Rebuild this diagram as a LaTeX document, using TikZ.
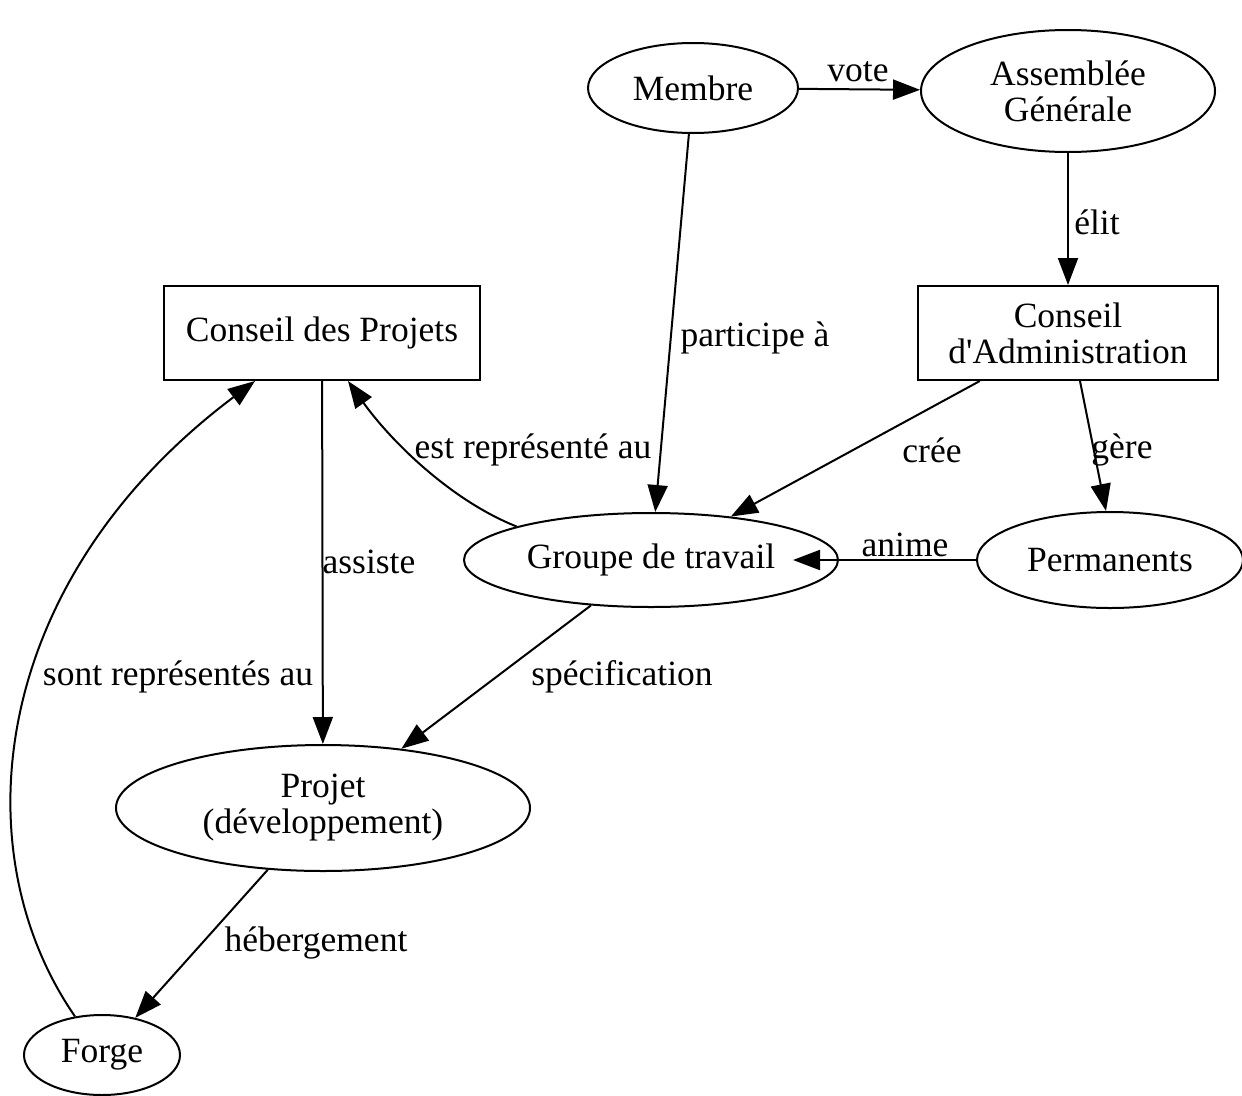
\documentclass[tikz,border=0pt]{standalone}
\usepackage{fontspec}
\setmainfont{Liberation Serif}[Ligatures=TeXOff]
\usetikzlibrary{shapes.geometric,arrows.meta}
\begin{document}
\begin{tikzpicture}[x=1pt,y=-1pt,
  every node/.style={font=\fontsize{35.5}{36}\selectfont, align=center},
  ell/.style={draw, ellipse, line width=2pt, inner sep=0pt},
  box/.style={draw, rectangle, line width=2pt, inner sep=0pt},
  edge/.style={line width=2pt, -{Triangle[length=27pt,width=20pt]}},
  lab/.style={inner sep=0pt}]
\useasboundingbox (0,0) rectangle (1242,1095);
% nodes
\node[ell, minimum width=210pt, minimum height=90pt] (membre) at (693,88) {Membre};
\node[ell, minimum width=294pt, minimum height=122pt] (ag) at (1068,91) {Assemblée\\Générale};
\node[box, minimum width=300pt, minimum height=94pt] (ca) at (1068,333) {Conseil\\d'Administration};
\node[box, minimum width=316pt, minimum height=94pt] (cp) at (322,333) {Conseil des Projets};
\node[ell, minimum width=374pt, minimum height=94pt] (gt) at (651,560) {Groupe de travail};
\node[ell, minimum width=266pt, minimum height=96pt] (perm) at (1110,560) {Permanents};
\node[ell, minimum width=414pt, minimum height=126pt] (proj) at (323,808) {Projet\\(développement)};
\node[ell, minimum width=156pt, minimum height=80pt] (forge) at (102,1055) {Forge};
\coordinate (animetip) at (793,560);
% labels
\node[lab] (lvote) at (858,72) {vote};
\node[lab] (lelit) at (1097,222) {élit};
\node[lab] (lpart) at (755,338) {participe à};
\node[lab] (lcree) at (932,450) {crée};
\node[lab] (lgere) at (1122,450) {gère};
\node[lab] (lanime) at (905,545) {anime};
\node[lab] (lest) at (533,450) {est représenté au};
\node[lab] (lass) at (369,562) {assiste};
\node[lab] (lsont) at (178,677) {sont représentés au};
\node[lab] (lspec) at (622,677) {spécification};
\node[lab] (lheb) at (316,943) {hébergement};
% edges
\draw[edge] (membre) -- (ag);
\draw[edge] (ag) -- (ca);
\draw[edge] (membre) -- (gt);
\draw[edge] (ca) -- (gt);
\draw[edge] ([xshift=12pt]ca.south) -- ([xshift=-4pt]perm.north);
\draw[edge] (perm.west) -- (animetip);
\draw[edge] (gt.166) .. controls (450,500) and (390,440) .. ([xshift=26pt]cp.south);
\draw[edge] (cp) -- (proj);
\draw[edge] (gt) -- (proj);
\draw[edge] (proj) -- (forge);
\draw[edge] (forge.125) .. controls (-40,850) and (-10,580) .. ([xshift=-67pt]cp.south);
\end{tikzpicture}
\end{document}
